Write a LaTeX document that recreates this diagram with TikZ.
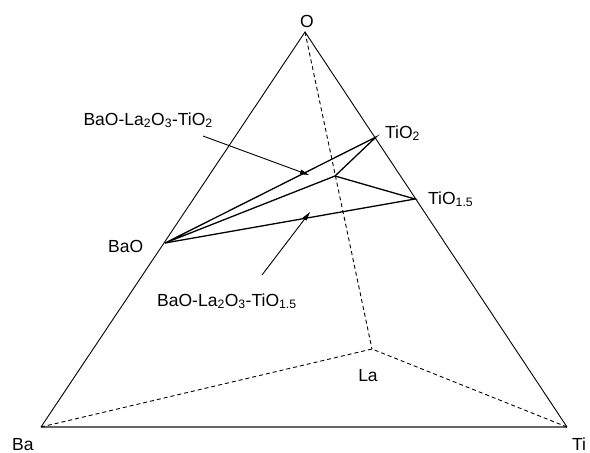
\documentclass[tikz,border=0pt]{standalone}
\usepackage{fontspec}
\setmainfont{Liberation Sans}
\usetikzlibrary{arrows.meta}
\begin{document}
\begin{tikzpicture}[x=1pt,y=-1pt,
  edge/.style={line width=0.9pt,black},
  base/.style={line width=1.6pt,black!60},
  hidden/.style={line width=0.9pt,dash pattern=on 4pt off 3pt},
  tie/.style={line width=1.3pt},
  pointer/.style={line width=0.9pt,-{Triangle[length=9pt,width=4.5pt]}},
  lbl/.style={inner sep=0pt,font=\fontsize{17.5}{20}\selectfont}]
\useasboundingbox (0,0) rectangle (590,453);
% vertices
\coordinate (O) at (305,32);
\coordinate (Ba) at (41,427);
\coordinate (Ti) at (567,427);
\coordinate (La) at (372,349);
\coordinate (BaO) at (165,243);
\coordinate (TiO2) at (376,137);
\coordinate (TiO15) at (415,199);
\coordinate (X) at (335,176);
% arrow coordinates
\coordinate (a1s) at (203,136);
\coordinate (a1e) at (309,175);
\coordinate (a2s) at (262,275);
\coordinate (a2e) at (310,212);
% outer tetrahedron
\draw[base] (Ba) -- (Ti);
\draw[edge] (Ba) -- (O) -- (Ti);
\draw[hidden] (Ba) -- (La) -- (Ti);
\draw[hidden] (O) -- (La);
% ties
\draw[tie] (BaO) -- (TiO2) -- (X) -- cycle;
\draw[tie] (X) -- (TiO15) -- (BaO);
% pointers
\draw[pointer] (a1s) -- (a1e);
\draw[pointer] (a2s) -- (a2e);
% labels
\node[lbl,anchor=base] (lO) at (307,27) {O};
\node[lbl,anchor=base west] (lBa) at (12,450) {Ba};
\node[lbl,anchor=base west] (lTi) at (572,450) {Ti};
\node[lbl,anchor=base] (lLa) at (368,381) {La};
\node[lbl,anchor=base west] (lBaO) at (108,252) {BaO};
\node[lbl,anchor=base west] (lTiO2) at (385,138) {TiO\textsubscript{2}};
\node[lbl,anchor=base west] (lTiO15) at (428,204) {TiO\textsubscript{1.5}};
\node[lbl,anchor=base east] (lup) at (213,125) {BaO-La\textsubscript{2}O\textsubscript{3}-TiO\textsubscript{2}};
\node[lbl,anchor=base west] (llow) at (157,306) {BaO-La\textsubscript{2}O\textsubscript{3}-TiO\textsubscript{1.5}};
\end{tikzpicture}
\end{document}
